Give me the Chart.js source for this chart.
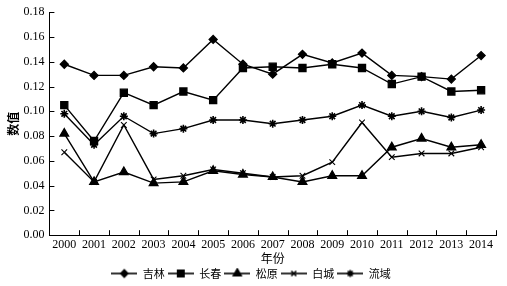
<!DOCTYPE html>
<html>
<head>
<meta charset="utf-8">
<script src="https://cdn.jsdelivr.net/npm/chart.js@4/dist/chart.umd.min.js"></script>
<style>
html,body{margin:0;padding:0;background:#fff;}
#wrap{width:507px;height:286px;}
</style>
</head>
<body>
<div id="wrap"><canvas id="c" width="507" height="286"></canvas></div>
<script>
const years = ['2000','2001','2002','2003','2004','2005','2006','2007','2008','2009','2010','2011','2012','2013','2014'];
const seriesNames = ['吉林','长春','松原','白城','流域'];
const jilin    = [0.138,0.129,0.129,0.136,0.135,0.158,0.138,0.130,0.146,0.139,0.147,0.129,0.128,0.126,0.145];
const changchun= [0.105,0.076,0.115,0.105,0.116,0.109,0.135,0.136,0.135,0.138,0.135,0.122,0.128,0.116,0.117];
const songyuan = [0.082,0.043,0.051,0.042,0.043,0.052,0.049,0.047,0.043,0.048,0.048,0.071,0.078,0.071,0.073];
const baicheng = [0.067,0.043,0.089,0.045,0.048,0.053,0.050,0.047,0.048,0.059,0.091,0.063,0.066,0.066,0.071];
const liuyu    = [0.098,0.073,0.096,0.082,0.086,0.093,0.093,0.090,0.093,0.096,0.105,0.096,0.100,0.095,0.101];
const yTicks = [0,0.02,0.04,0.06,0.08,0.10,0.12,0.14,0.16,0.18];

const serif = "'Liberation Serif','DejaVu Serif',serif";
const cjk = "'Noto Sans CJK SC','Noto Sans CJK JP',sans-serif";

const styles = [
  {pointStyle:'rectRot', radius:4, bw:1.3},
  {pointStyle:'rect', radius:5, bw:1.3},
  {pointStyle:'triangle', radius:5, bw:1.3},
  {pointStyle:'crossRot', radius:4, bw:1.1},
  {pointStyle:'star', radius:4, bw:1.6}
];
const allData = [jilin, changchun, songyuan, baicheng, liuyu];

function legendIcon(st){
  const cv = document.createElement('canvas');
  cv.width = 26; cv.height = 12;
  const cx = cv.getContext('2d');
  cx.strokeStyle = '#000'; cx.fillStyle = '#000'; cx.lineWidth = 1.6;
  cx.beginPath(); cx.moveTo(0,6); cx.lineTo(26,6); cx.stroke();
  Chart.helpers.drawPoint(cx, {pointStyle: st.pointStyle, radius: st.radius-0.5, borderWidth: st.bw}, 13, 6);
  return cv;
}

const datasets = allData.map((d,i)=>({
  label: seriesNames[i],
  data: d,
  borderColor:'#000',
  backgroundColor:'#000',
  borderWidth:1.4,
  pointStyle: styles[i].pointStyle,
  pointRadius: styles[i].radius,
  pointBorderWidth: styles[i].bw,
  pointBackgroundColor:'#000',
  pointBorderColor:'#000',
  tension:0,
  fill:false
}));

const innerTicks = {
  id:'innerTicks',
  afterDraw(chart){
    const ctx = chart.ctx, x = chart.scales.x, y = chart.scales.y;
    ctx.save();
    ctx.strokeStyle = '#000'; ctx.lineWidth = 1;
    const L = 5;
    y.ticks.forEach(t=>{
      const py = Math.round(y.getPixelForValue(t.value))+0.5;
      ctx.beginPath(); ctx.moveTo(x.left, py); ctx.lineTo(x.left+L, py); ctx.stroke();
    });
    const n = years.length;
    const step = (x.right - x.left)/n;
    for(let i=0;i<=n;i++){
      const px = Math.round(x.left + i*step)+0.5;
      ctx.beginPath(); ctx.moveTo(px, y.bottom); ctx.lineTo(px, y.bottom-L); ctx.stroke();
    }
    ctx.restore();
  }
};

new Chart(document.getElementById('c'), {
  type:'line',
  data:{labels: years, datasets},
  plugins:[innerTicks],
  options:{
    responsive:false,
    animation:false,
    layout:{padding:{left:6,right:11,top:2,bottom:-3}},
    plugins:{
      legend:{
        position:'bottom',
        labels:{
          usePointStyle:true,
          pointStyleWidth:26,
          boxHeight:11,
          padding:3,
          color:'#000',
          font:{family:cjk, size:11},
          generateLabels(chart){
            return chart.data.datasets.map((ds,i)=>({
              text: ds.label,
              pointStyle: legendIcon(styles[i]),
              fillStyle:'#000', strokeStyle:'#000', lineWidth:0,
              hidden:false, datasetIndex:i, fontColor:'#000'
            }));
          }
        }
      },
      tooltip:{enabled:false}
    },
    scales:{
      x:{
        type:'category',
        offset:true,
        grid:{display:false, drawTicks:false},
        border:{display:true, color:'#000', width:1},
        ticks:{color:'#000', font:{family:serif, size:12}, padding:2, maxRotation:0, autoSkip:false},
        title:{display:true, text:'年份', color:'#000', font:{family:cjk, size:12}, padding:{top:-2,bottom:-1}}
      },
      y:{
        min:0, max:0.18,
        afterBuildTicks(scale){ scale.ticks = yTicks.map(v=>({value:v})); },
        grid:{display:false, drawTicks:false},
        border:{display:true, color:'#000', width:1},
        ticks:{color:'#000', font:{family:serif, size:12}, padding:5,
          callback:(v)=>Number(v).toFixed(2)},
        title:{display:true, text:'数值', color:'#000', font:{family:cjk, size:12, weight:'bold'}, padding:{top:0,bottom:-2}}
      }
    }
  }
});
</script>
</body>
</html>
